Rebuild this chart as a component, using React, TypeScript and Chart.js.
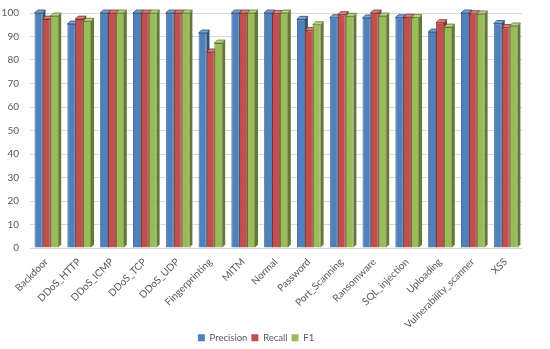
import React, { useEffect, useRef } from "react";
import { Chart, registerables } from "chart.js";

Chart.register(...registerables);

const categories = [
  "Backdoor", "DDoS_HTTP", "DDoS_ICMP", "DDoS_TCP", "DDoS_UDP", "Fingerprinting",
  "MITM", "Normal", "Password", "Port_Scanning", "Ransomware", "SQL_injection",
  "Uploading", "Vulnerability_scanner", "XSS",
];
const precision = [100, 95.3, 100, 100, 100, 91.5, 100, 100, 97.3, 98, 97.9, 98, 91.9, 100, 95.5];
const recall = [97.4, 97.4, 100, 100, 100, 83.4, 100, 99.8, 92.6, 99.3, 100, 98.2, 95.9, 99.7, 93.8];
const f1 = [98.7, 96.5, 100, 100, 100, 87.2, 100, 100, 95, 98.6, 98.7, 98.1, 94, 99.6, 94.5];
const yTicks = [0, 10, 20, 30, 40, 50, 60, 70, 80, 90, 100];

const fronts = ["#4F81BD", "#C0504D", "#9BBB59"];
const sides = ["#2E4F78", "#7E2F2D", "#637A35"];
const tops = ["#7FA3D1", "#D88581", "#B9D18A"];
const edges = ["#2B4A70", "#772C2A", "#5E7432"];

const bar3d = {
  id: "bar3d",
  beforeDatasetsDraw(chart: any) {
    const ctx = chart.ctx;
    const d = 3;
    chart.data.datasets.forEach((ds: any, i: number) => {
      const meta = chart.getDatasetMeta(i);
      meta.data.forEach((el: any) => {
        const { x, y, base, width } = el.getProps(["x", "y", "base", "width"], true);
        const l = x - width / 2;
        const r = x + width / 2;
        ctx.save();
        ctx.fillStyle = sides[i];
        ctx.beginPath();
        ctx.moveTo(r, y);
        ctx.lineTo(r + d, y - d);
        ctx.lineTo(r + d, base - d);
        ctx.lineTo(r, base);
        ctx.closePath();
        ctx.fill();
        ctx.fillStyle = tops[i];
        ctx.strokeStyle = edges[i];
        ctx.lineWidth = 0.8;
        ctx.beginPath();
        ctx.moveTo(l, y);
        ctx.lineTo(l + d, y - d);
        ctx.lineTo(r + d, y - d);
        ctx.lineTo(r, y);
        ctx.closePath();
        ctx.fill();
        ctx.stroke();
        ctx.restore();
      });
    });
  },
};

const legendFit = {
  id: "legendFit",
  beforeLayout(chart: any) {
    const lg = chart.legend;
    if (lg && !lg.__patched) {
      const origFit = lg.fit;
      lg.fit = function () {
        origFit.call(this);
        this.height = 20;
      };
      const origDraw = lg._draw;
      lg._draw = function () {
        const ctx = this.ctx;
        ctx.save();
        ctx.translate(-5, 0);
        origDraw.call(this);
        ctx.restore();
      };
      lg.__patched = true;
    }
  },
};

export default function App() {
  const ref = useRef<HTMLCanvasElement>(null);
  useEffect(() => {
    document.body.style.margin = "0";
    const chart = new Chart(ref.current!, {
      type: "bar",
      data: {
        labels: categories,
        datasets: [
          { label: "Precision", data: precision, backgroundColor: fronts[0], borderColor: edges[0], borderWidth: 0.8 },
          { label: "Recall", data: recall, backgroundColor: fronts[1], borderColor: edges[1], borderWidth: 0.8 },
          { label: "F1", data: f1, backgroundColor: fronts[2], borderColor: edges[2], borderWidth: 0.8 },
        ],
      },
      options: {
        responsive: false,
        animation: false,
        layout: { padding: { left: 0, right: 28, top: 13, bottom: 0 } },
        datasets: { bar: { categoryPercentage: 0.72, barPercentage: 1.0 } },
        scales: {
          x: {
            grid: { display: false },
            border: { display: false },
            afterFit: (scale: any) => {
              scale.height = 81;
            },
            ticks: {
              minRotation: 45,
              maxRotation: 45,
              autoSkip: false,
              color: "#595959",
              font: { family: "Lato", size: 10 },
              padding: 0,
            },
          },
          y: {
            min: 0,
            max: 100,
            afterBuildTicks: (axis: any) => {
              axis.ticks = yTicks.map((v) => ({ value: v }));
            },
            afterFit: (scale: any) => {
              scale.width = 30;
              scale.paddingTop = 0;
              scale.paddingBottom = 0;
            },
            grid: { color: "#D9D9D9", drawTicks: false },
            border: { display: false },
            ticks: {
              color: "#595959",
              font: { family: "Lato", size: 10 },
              padding: 11,
            },
          },
        },
        plugins: {
          legend: {
            position: "bottom",
            labels: {
              boxWidth: 7,
              boxHeight: 7,
              color: "#595959",
              font: { family: "Lato", size: 9.5 },
              padding: 4,
              generateLabels: (chart: any) =>
                chart.data.datasets.map((ds: any, i: number) => ({
                  text: ds.label,
                  fillStyle: fronts[i],
                  strokeStyle: fronts[i],
                  lineWidth: 0,
                  fontColor: "#595959",
                  datasetIndex: i,
                })),
            },
          },
          tooltip: { enabled: false },
        },
      },
      plugins: [bar3d, legendFit],
    });
    return () => chart.destroy();
  }, []);
  return <canvas ref={ref} width={550} height={349} style={{ display: "block" }} />;
}
